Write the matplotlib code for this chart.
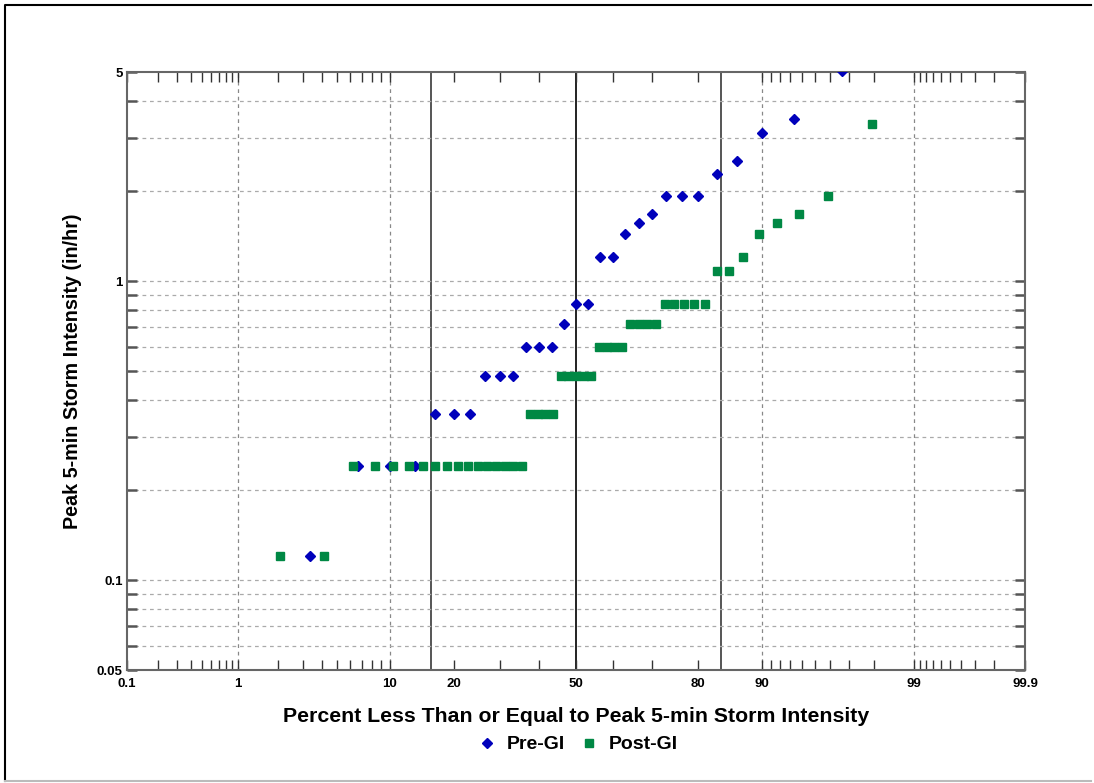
import matplotlib
matplotlib.use("Agg")
import matplotlib.pyplot as plt
import numpy as np
from statistics import NormalDist
from matplotlib.lines import Line2D

# peak 5-min intensities (in/hr)
pre_gi = [0.12,
          0.24, 0.24, 0.24,
          0.36, 0.36, 0.36,
          0.48, 0.48, 0.48,
          0.60, 0.60, 0.60,
          0.72,
          0.84, 0.84,
          1.20, 1.20,
          1.44, 1.56, 1.68,
          1.92, 1.92, 1.92,
          2.28, 2.52, 3.12, 3.48, 5.04]

post_gi = ([0.12] * 2 + [0.24] * 15 + [0.36] * 4 + [0.48] * 5 + [0.60] * 4
           + [0.72] * 4 + [0.84] * 5 + [1.08] * 2
           + [1.20, 1.44, 1.56, 1.68, 1.92, 3.36])

x_labels = ["0.1", "1", "10", "20", "50", "80", "90", "99", "99.9"]
x_minor = [0.2, 0.3, 0.4, 0.5, 0.6, 0.7, 0.8, 0.9,
           2, 3, 4, 5, 6, 7, 8, 9, 30, 40, 60, 70,
           91, 92, 93, 94, 95, 96, 97, 98,
           99.1, 99.2, 99.3, 99.4, 99.5, 99.6, 99.7, 99.8]
x_grid = [1, 10, 90, 99]
x_sigma = [15.87, 50, 84.13]
y_labels = ["0.05", "0.1", "1", "5"]
y_minor = [0.06, 0.07, 0.08, 0.09, 0.2, 0.3, 0.4, 0.5, 0.6, 0.7, 0.8, 0.9, 2, 3, 4]

plt.rcParams['font.family'] = ['Liberation Sans', 'DejaVu Sans']
plt.rcParams['font.weight'] = 'bold'

nd = NormalDist()


def fwd(p):
    p = np.clip(np.asarray(p, dtype=float), 1e-7, 100 - 1e-7)
    return np.vectorize(lambda v: nd.inv_cdf(v / 100.0))(p) if p.size else p


def inv(z):
    z = np.asarray(z, dtype=float)
    return np.vectorize(lambda v: 100.0 * nd.cdf(v))(z) if z.size else z


def weibull(vals):
    v = np.sort(vals)
    n = len(v)
    return 100.0 * np.arange(1, n + 1) / (n + 1), v


fig = plt.figure(figsize=(10.94, 7.83), dpi=100)
# outer frame: left + top dark, bottom light
fig.lines.append(Line2D([0.005, 0.005, 0.997], [0.003, 0.994, 0.994], transform=fig.transFigure,
                        color='black', lw=1.5))
fig.lines.append(Line2D([0.005, 0.997], [0.003, 0.003], transform=fig.transFigure,
                        color='#bbbbbb', lw=1.5))

ax = fig.add_axes([0.1161, 0.1443, 0.8208, 0.7637])
ax.set_xscale('function', functions=(fwd, inv))
ax.set_yscale('log')
ax.set_xlim(0.1, 99.9)
ax.set_ylim(0.05, 5)

# grid
for g in x_grid:
    ax.axvline(g, color='#888888', lw=0.9, ls=(0, (3, 3)), zorder=1)
for s in x_sigma:
    ax.axvline(s, color='#555555' if s != 50 else '#222222', lw=1.4, zorder=1)
for g in y_minor + [0.1, 1]:
    ax.axhline(g, color='#aaaaaa', lw=0.9, ls=(0, (3, 3)), zorder=1)

xp, yp = weibull(pre_gi)
ax.plot(xp, yp, ls='none', marker='D', ms=5.5, color='#0000bb', label='Pre-GI', zorder=3)
xq, yq = weibull(post_gi)
ax.plot(xq, yq, ls='none', marker='s', ms=6, color='#008844', label='Post-GI', zorder=4)

ax.set_xticks([float(t) for t in x_labels])
ax.set_xticklabels(x_labels)
ax.set_xticks(x_minor, minor=True)
ax.set_yticks([float(t) for t in y_labels])
ax.set_yticklabels(y_labels)
ax.set_yticks(y_minor, minor=True)
ax.yaxis.set_minor_formatter(matplotlib.ticker.NullFormatter())
ax.xaxis.set_minor_formatter(matplotlib.ticker.NullFormatter())

ax.tick_params(axis='x', which='both', direction='in', top=True, length=7, width=1,
               color='#333333', labelsize=9.5, pad=6)
ax.tick_params(axis='y', which='both', direction='in', right=True, length=7, width=1.8,
               color='#555555', labelsize=9.5, pad=3)
for sp in ax.spines.values():
    sp.set_color('#666666')
    sp.set_linewidth(1.5)

ax.set_xlabel('Percent Less Than or Equal to Peak 5-min Storm Intensity',
              fontsize=15.3, fontweight='bold', labelpad=12)
ax.set_ylabel('Peak 5-min Storm Intensity (in/hr)', fontsize=14.2, fontweight='bold',
              labelpad=10.5)

fig.legend(loc='center', bbox_to_anchor=(0.528, 0.049), ncol=2, frameon=False,
           fontsize=14, handletextpad=0.5, columnspacing=0.75, markerscale=0.85,
           handlelength=1.0)

fig.savefig('out.png', dpi=100)
